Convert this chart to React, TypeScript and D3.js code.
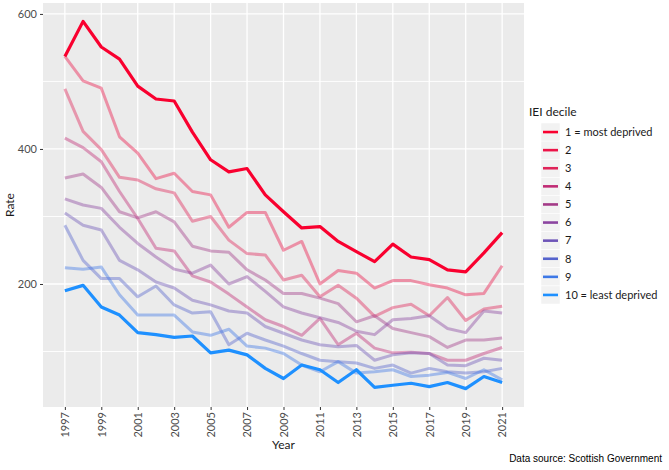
import * as d3 from "d3";
import React, { useEffect, useRef } from "react";

// years on the x axis
const years = [
  1997, 1998, 1999, 2000, 2001, 2002, 2003, 2004, 2005, 2006, 2007, 2008, 2009,
  2010, 2011, 2012, 2013, 2014, 2015, 2016, 2017, 2018, 2019, 2020, 2021,
];
const xTicks = [1997, 1999, 2001, 2003, 2005, 2007, 2009, 2011, 2013, 2015, 2017, 2019, 2021];
const yTicks = [200, 400, 600];
const yMinor = [100, 300, 500];

const deciles = [
  "1 = most deprived", "2", "3", "4", "5", "6", "7", "8", "9", "10 = least deprived",
];
const decileColours = [
  "#f9002f", "#ec1448", "#df2358", "#c02b74", "#a33a87",
  "#8b45a0", "#6e55b8", "#5563cc", "#3d78e6", "#1e90ff",
];

// rate per decile
const rate1 = [537, 589, 551, 533, 493, 474, 471, 425, 384, 366, 371, 332, 307, 283, 285, 263, 248, 233, 259, 240, 236, 221, 218, 246, 276];
const rate2 = [537, 501, 490, 418, 394, 356, 364, 337, 332, 284, 306, 306, 250, 263, 200, 220, 216, 194, 205, 205, 199, 194, 184, 186, 227];
const rate3 = [489, 426, 399, 358, 354, 341, 335, 293, 300, 265, 245, 243, 206, 213, 181, 198, 179, 152, 165, 170, 153, 180, 146, 163, 167];
const rate4 = [416, 402, 381, 337, 297, 253, 249, 212, 203, 185, 166, 147, 137, 124, 149, 110, 127, 105, 98, 99, 97, 87, 87, 97, 106];
const rate5 = [357, 363, 343, 307, 298, 307, 292, 256, 249, 247, 221, 206, 186, 186, 179, 171, 144, 153, 134, 128, 122, 106, 117, 117, 120];
const rate6 = [326, 317, 312, 284, 260, 240, 222, 216, 228, 200, 211, 189, 166, 157, 150, 143, 130, 125, 147, 149, 153, 134, 128, 160, 157];
const rate7 = [305, 287, 280, 235, 221, 203, 194, 176, 169, 160, 157, 137, 127, 117, 110, 107, 109, 87, 95, 98, 97, 80, 79, 90, 87];
const rate8 = [287, 235, 208, 208, 181, 197, 169, 157, 159, 110, 127, 117, 108, 97, 87, 85, 83, 75, 80, 68, 75, 70, 68, 70, 75];
const rate9 = [224, 222, 225, 184, 154, 154, 154, 129, 124, 133, 108, 105, 97, 80, 70, 85, 68, 70, 73, 63, 65, 69, 60, 73, 58];
const rate10 = [190, 198, 166, 154, 128, 125, 121, 123, 98, 102, 95, 75, 60, 80, 73, 54, 73, 47, 50, 53, 48, 54, 45, 63, 54];
const rates = [rate1, rate2, rate3, rate4, rate5, rate6, rate7, rate8, rate9, rate10];

const FONT = "Lato, 'Open Sans', sans-serif";

export function RatePlot({
  width = 669,
  height = 470,
  marginLeft = 43,
  panelRight = 524,
  marginTop = 3,
  panelBottom = 407,
}) {
  const svgRef = useRef<SVGSVGElement>(null);

  useEffect(() => {
    if (!svgRef.current) return;
    const svg = d3.select(svgRef.current);
    svg.selectAll("*").remove();

    // ggplot style 5% expansion
    const [x0, x1] = d3.extent(years) as [number, number];
    const xPad = (x1 - x0) * 0.05;
    const allVals = rates.flat();
    const [y0, y1] = d3.extent(allVals) as [number, number];
    const yPad = (y1 - y0) * 0.05;

    const xScale = d3.scaleLinear([x0 - xPad, x1 + xPad], [marginLeft, panelRight]);
    const yScale = d3.scaleLinear([y0 - yPad, y1 + yPad], [panelBottom, marginTop]);

    // panel
    svg
      .append("rect")
      .attr("x", marginLeft)
      .attr("y", marginTop)
      .attr("width", panelRight - marginLeft)
      .attr("height", panelBottom - marginTop)
      .attr("fill", "#ebebeb");

    const grid = svg.append("g").attr("stroke", "#ffffff");
    grid
      .selectAll("line.minor")
      .data(yMinor)
      .join("line")
      .attr("x1", marginLeft)
      .attr("x2", panelRight)
      .attr("y1", (d) => yScale(d))
      .attr("y2", (d) => yScale(d))
      .attr("stroke-width", 0.9);
    grid
      .selectAll("line.ymajor")
      .data(yTicks)
      .join("line")
      .attr("x1", marginLeft)
      .attr("x2", panelRight)
      .attr("y1", (d) => yScale(d))
      .attr("y2", (d) => yScale(d))
      .attr("stroke-width", 1.3);
    grid
      .selectAll("line.xmajor")
      .data(xTicks)
      .join("line")
      .attr("x1", (d) => xScale(d))
      .attr("x2", (d) => xScale(d))
      .attr("y1", marginTop)
      .attr("y2", panelBottom)
      .attr("stroke-width", 1.3);

    // axes
    const yAxis = d3.axisLeft<number>(yScale).tickValues(yTicks).tickSize(3).tickPadding(3);
    svg
      .append("g")
      .attr("transform", `translate(${marginLeft},0)`)
      .call(yAxis)
      .call((g) => g.select(".domain").remove())
      .call((g) => g.selectAll(".tick line").attr("stroke", "#333333"))
      .call((g) =>
        g
          .selectAll(".tick text")
          .attr("fill", "#4d4d4d")
          .attr("font-size", 11)
          .attr("font-family", FONT)
      );

    const xAxis = d3
      .axisBottom<number>(xScale)
      .tickValues(xTicks)
      .tickFormat((d) => String(d))
      .tickSize(3)
      .tickPadding(3);
    svg
      .append("g")
      .attr("transform", `translate(0,${panelBottom})`)
      .call(xAxis)
      .call((g) => g.select(".domain").remove())
      .call((g) => g.selectAll(".tick line").attr("stroke", "#333333"))
      .call((g) =>
        g
          .selectAll(".tick text")
          .attr("fill", "#4d4d4d")
          .attr("font-size", 11)
          .attr("font-family", FONT)
          .attr("text-anchor", "end")
          .attr("dy", "0.35em")
          .attr("transform", "translate(0,5) rotate(-90)")
          .attr("x", 0)
          .attr("y", 0)
      );

    svg
      .append("text")
      .attr("x", (marginLeft + panelRight) / 2)
      .attr("y", 449)
      .attr("text-anchor", "middle")
      .attr("font-size", 12)
      .attr("font-family", FONT)
      .attr("fill", "#1a1a1a")
      .text("Year");

    svg
      .append("text")
      .attr("transform", `translate(14,${(marginTop + panelBottom) / 2}) rotate(-90)`)
      .attr("text-anchor", "middle")
      .attr("font-size", 12)
      .attr("font-family", FONT)
      .attr("fill", "#1a1a1a")
      .text("Rate");

    // lines: faded deciles first, then the two extremes on top
    const line = d3
      .line<number>()
      .x((_, i) => xScale(years[i]))
      .y((d) => yScale(d));
    const order = [1, 2, 3, 4, 5, 6, 7, 8, 0, 9];
    order.forEach((k) => {
      const strong = k === 0 || k === 9;
      svg
        .append("path")
        .datum(rates[k])
        .attr("d", line)
        .attr("fill", "none")
        .attr("stroke", decileColours[k])
        .attr("stroke-opacity", strong ? 1 : 0.42)
        .attr("stroke-width", strong ? 3.2 : 3)
        .attr("stroke-linejoin", "round");
    });

    // legend
    const lg = svg.append("g").attr("transform", "translate(529,0)");
    lg.append("text")
      .attr("x", 0)
      .attr("y", 116)
      .attr("font-size", 12)
      .attr("font-family", FONT)
      .attr("fill", "#1a1a1a")
      .text("IEI decile");
    const rowH = 18.1;
    const items = lg
      .selectAll("g.item")
      .data(deciles)
      .join("g")
      .attr("transform", (_, i) => `translate(0,${123 + i * rowH})`);
    items
      .append("rect")
      .attr("x", 12)
      .attr("y", 0)
      .attr("width", 19)
      .attr("height", rowH)
      .attr("fill", "#f2f2f2")
      .attr("stroke", "#ffffff")
      .attr("stroke-width", 0.5);
    items
      .append("line")
      .attr("x1", 14)
      .attr("x2", 29)
      .attr("y1", rowH / 2)
      .attr("y2", rowH / 2)
      .attr("stroke", (_, i) => decileColours[i])
      .attr("stroke-width", 2.6);
    items
      .append("text")
      .attr("x", 36)
      .attr("y", rowH / 2)
      .attr("dy", "0.35em")
      .attr("font-size", 11)
      .attr("font-family", FONT)
      .attr("fill", "#1a1a1a")
      .text((d) => d);

    svg
      .append("text")
      .attr("x", 662)
      .attr("y", 462)
      .attr("text-anchor", "end")
      .attr("font-size", 10)
      .attr("font-family", "'Liberation Sans', Arial, sans-serif")
      .attr("fill", "#000000")
      .text("Data source: Scottish Government");
  }, []);

  return (
    <svg
      ref={svgRef}
      width={width}
      height={height}
      viewBox={`0 0 ${width} ${height}`}
      style={{ position: "absolute", left: 0, top: 0, background: "#ffffff" }}
    />
  );
}

export default function App() {
  return <RatePlot />;
}
